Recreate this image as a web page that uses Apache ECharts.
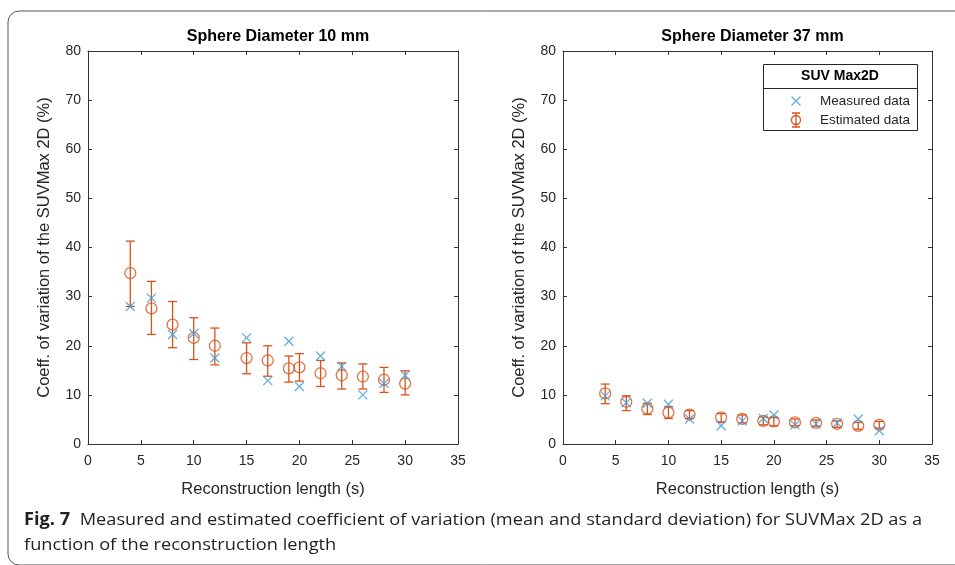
<!DOCTYPE html>
<html>
<head>
<meta charset="utf-8">
<script src="https://cdn.jsdelivr.net/npm/echarts@6/dist/echarts.min.js"></script>
<style>
html,body{margin:0;padding:0;background:#fff;}
#chart{width:955px;height:565px;}
</style>
</head>
<body>
<div id="chart"></div>
<script>
// ---- data ----
const lengths = [4, 6, 8, 10, 12, 15, 17, 19, 20, 22, 24, 26, 28, 30];

const d10Measured = [28.0, 29.7, 22.3, 22.5, 17.5, 21.6, 12.9, 20.9, 11.7, 17.9, 15.8, 10.0, 12.3, 14.0];
const d10EstMean  = [34.8, 27.6, 24.3, 21.6, 20.0, 17.5, 17.0, 15.4, 15.6, 14.4, 14.0, 13.7, 13.1, 12.3];
const d10EstLow   = [28.0, 22.3, 19.6, 17.2, 16.1, 14.3, 13.8, 12.6, 12.8, 11.7, 11.2, 11.2, 10.5, 10.0];
const d10EstHigh  = [41.3, 33.1, 29.0, 25.7, 23.6, 20.6, 20.0, 17.9, 18.4, 17.0, 16.5, 16.3, 15.6, 14.9];

const d37Measured = [9.8, 8.4, 8.3, 8.1, 5.1, 3.7, 4.7, 5.2, 5.9, 3.9, 4.1, 4.3, 5.1, 2.7];
const d37EstMean  = [10.3, 8.6, 7.2, 6.4, 6.0, 5.4, 5.1, 4.7, 4.6, 4.4, 4.3, 4.1, 3.7, 3.9];
const d37EstLow   = [8.2, 6.8, 6.0, 5.2, 5.2, 4.5, 4.3, 3.9, 3.7, 3.7, 3.6, 3.4, 3.0, 3.2];
const d37EstHigh  = [12.2, 9.8, 8.3, 7.6, 6.8, 6.2, 5.9, 5.5, 5.4, 5.1, 4.9, 4.7, 4.4, 4.6];

const panelTitles = ['Sphere Diameter 10 mm', 'Sphere Diameter 37 mm'];
const xTitle = 'Reconstruction length (s)';
const yTitle = 'Coeff. of variation of the SUVMax 2D (%)';
const legendTitle = 'SUV Max2D';
const seriesNames = ['Measured data', 'Estimated data'];
const captionBold = 'Fig. 7';
const captionLine1 = '  Measured and estimated coefficient of variation (mean and standard deviation) for SUVMax 2D as a';
const captionLine2 = 'function of the reconstruction length';

// ---- styling ----
const BLUE = '#3D9BE0';
const ORANGE = '#D95319';
const AXIS = '#333333';
const FONT = '"Liberation Sans", Arial, sans-serif';
const CAP_FONT = '"Open Sans", sans-serif';

const chart = echarts.init(document.getElementById('chart'), null, {renderer: 'canvas'});

const grids = [
  {left: 88, top: 51, width: 370, height: 393},
  {left: 563, top: 51, width: 369, height: 393}
];

function mainX(gi) {
  return {
    type: 'value', gridIndex: gi, min: 0, max: 35, interval: 5, position: 'bottom',
    name: xTitle, nameLocation: 'middle', nameGap: 37,
    nameTextStyle: {fontFamily: FONT, fontSize: 16.5, color: '#262626'},
    axisLine: {show: true, onZero: false, lineStyle: {color: AXIS, width: 1}},
    axisTick: {show: true, inside: true, length: 4, lineStyle: {color: AXIS}},
    axisLabel: {fontFamily: FONT, fontSize: 14, color: '#262626', margin: 10},
    splitLine: {show: false}
  };
}
function topX(gi) {
  return {
    type: 'value', gridIndex: gi, min: 0, max: 35, interval: 5, position: 'top',
    axisLine: {show: true, onZero: false, lineStyle: {color: AXIS, width: 1}},
    axisTick: {show: true, inside: true, length: 4, lineStyle: {color: AXIS}},
    axisLabel: {show: false}, splitLine: {show: false}
  };
}
function mainY(gi) {
  return {
    type: 'value', gridIndex: gi, min: 0, max: 80, interval: 10, position: 'left',
    name: yTitle, nameLocation: 'middle', nameGap: 35, nameRotate: 90,
    nameTextStyle: {fontFamily: FONT, fontSize: 16.5, color: '#262626'},
    axisLine: {show: true, onZero: false, lineStyle: {color: AXIS, width: 1}},
    axisTick: {show: true, inside: true, length: 4, lineStyle: {color: AXIS}},
    axisLabel: {fontFamily: FONT, fontSize: 14, color: '#262626', margin: 7},
    splitLine: {show: false}
  };
}
function rightY(gi) {
  return {
    type: 'value', gridIndex: gi, min: 0, max: 80, interval: 10, position: 'right',
    axisLine: {show: true, onZero: false, lineStyle: {color: AXIS, width: 1}},
    axisTick: {show: true, inside: true, length: 4, lineStyle: {color: AXIS}},
    axisLabel: {show: false}, splitLine: {show: false}
  };
}

const CROSS = 'path://M0,0L10,10M10,0L0,10';
const CROSS_ICON = 'path://M7.5,0L7.5,0M3,3L12,12M12,3L3,12M7.5,15L7.5,15';
const EST_ICON = 'path://M5,0L5,0M1,0.5L9,0.5M5,0.5L5,14.5M1,14.5L9,14.5M9.5,7.5A4.5,4.5,0,1,1,0.5,7.5A4.5,4.5,0,1,1,9.5,7.5M5,15L5,15';

function errorSeries(xi, yi, lows, highs) {
  return {
    type: 'custom', name: seriesNames[1], xAxisIndex: xi, yAxisIndex: yi,
    data: lengths.map((x, i) => [x, lows[i], highs[i]]),
    encode: {x: 0, y: [1, 2]},
    renderItem: function (params, api) {
      const x = api.value(0);
      const lo = api.coord([x, api.value(1)]);
      const hi = api.coord([x, api.value(2)]);
      const w = 4.5;
      const st = {stroke: ORANGE, lineWidth: 1.3, fill: 'none'};
      return {
        type: 'group',
        children: [
          {type: 'line', shape: {x1: lo[0], y1: lo[1], x2: hi[0], y2: hi[1]}, style: st},
          {type: 'line', shape: {x1: lo[0] - w, y1: lo[1], x2: lo[0] + w, y2: lo[1]}, style: st},
          {type: 'line', shape: {x1: hi[0] - w, y1: hi[1], x2: hi[0] + w, y2: hi[1]}, style: st}
        ]
      };
    },
    z: 3, silent: true
  };
}
function estSeries(xi, yi, vals) {
  return {
    type: 'scatter', name: seriesNames[1], xAxisIndex: xi, yAxisIndex: yi,
    data: lengths.map((x, i) => [x, vals[i]]),
    symbol: 'circle', symbolSize: 11,
    itemStyle: {color: 'rgba(0,0,0,0)', borderColor: ORANGE, borderWidth: 1.3},
    z: 4, silent: true
  };
}
function measSeries(xi, yi, vals) {
  return {
    type: 'scatter', name: seriesNames[0], xAxisIndex: xi, yAxisIndex: yi,
    data: lengths.map((x, i) => [x, vals[i]]),
    symbol: CROSS, symbolSize: 9,
    itemStyle: {color: 'none', borderColor: BLUE, borderWidth: 1.3},
    z: 5, silent: true
  };
}

// caption horizontal fit (condensed look) using canvas text metrics
const mctx = document.createElement('canvas').getContext('2d');
mctx.font = 'bold 17px ' + CAP_FONT;
let wCap = mctx.measureText(captionBold).width;
mctx.font = '17px ' + CAP_FONT;
wCap += mctx.measureText(captionLine1).width;
const capScale = 898 / wCap;

const option = {
  backgroundColor: '#fff',
  animation: false,
  title: panelTitles.map((t, i) => ({
    text: t,
    left: grids[i].left + grids[i].width / 2,
    textAlign: 'center',
    top: 24,
    textStyle: {fontFamily: FONT, fontSize: 16, fontWeight: 'bold', color: '#000'}
  })),
  grid: grids,
  xAxis: [mainX(0), topX(0), mainX(1), topX(1)],
  yAxis: [mainY(0), rightY(0), mainY(1), rightY(1)],
  legend: {
    orient: 'vertical', left: 789, top: 91, itemGap: -1, padding: 0,
    itemWidth: 38, itemHeight: 15, selectedMode: false, z: 10,
    textStyle: {fontFamily: FONT, fontSize: 13.5, color: '#262626'},
    data: [
      {name: seriesNames[0], icon: CROSS_ICON,
        itemStyle: {color: 'none', borderColor: BLUE, borderWidth: 1.3}},
      {name: seriesNames[1], icon: EST_ICON,
        itemStyle: {color: 'none', borderColor: ORANGE, borderWidth: 1.3}}
    ]
  },
  graphic: [
    {type: 'rect', z: 0, silent: true,
      shape: {x: 8, y: 11, width: 980, height: 554, r: 11},
      style: {fill: 'none', stroke: '#555', lineWidth: 1}},
    {type: 'rect', z: 1, silent: true,
      shape: {x: 763.5, y: 64.5, width: 154, height: 66},
      style: {fill: '#fff', stroke: '#262626', lineWidth: 1}},
    {type: 'line', z: 1, silent: true,
      shape: {x1: 763.5, y1: 88.5, x2: 917.5, y2: 88.5},
      style: {stroke: '#262626', lineWidth: 1}},
    {type: 'text', z: 2, silent: true, x: 840, y: 76,
      style: {text: legendTitle, fontFamily: FONT, fontSize: 14, fontWeight: 'bold',
        fill: '#000', align: 'center', verticalAlign: 'middle'}},
    {type: 'text', z: 2, silent: true, x: 24, y: 520, scaleX: capScale,
      style: {text: '{b|' + captionBold + '}' + captionLine1,
        fontFamily: CAP_FONT, fontSize: 17, fill: '#231f20', verticalAlign: 'middle',
        rich: {b: {fontFamily: CAP_FONT, fontSize: 17, fontWeight: 'bold', fill: '#231f20'}}}},
    {type: 'text', z: 2, silent: true, x: 24, y: 545, scaleX: capScale,
      style: {text: captionLine2, fontFamily: CAP_FONT, fontSize: 17, fill: '#231f20',
        verticalAlign: 'middle'}}
  ],
  series: [
    errorSeries(0, 0, d10EstLow, d10EstHigh),
    estSeries(0, 0, d10EstMean),
    measSeries(0, 0, d10Measured),
    errorSeries(2, 2, d37EstLow, d37EstHigh),
    estSeries(2, 2, d37EstMean),
    measSeries(2, 2, d37Measured)
  ]
};
chart.setOption(option);
</script>
</body>
</html>
